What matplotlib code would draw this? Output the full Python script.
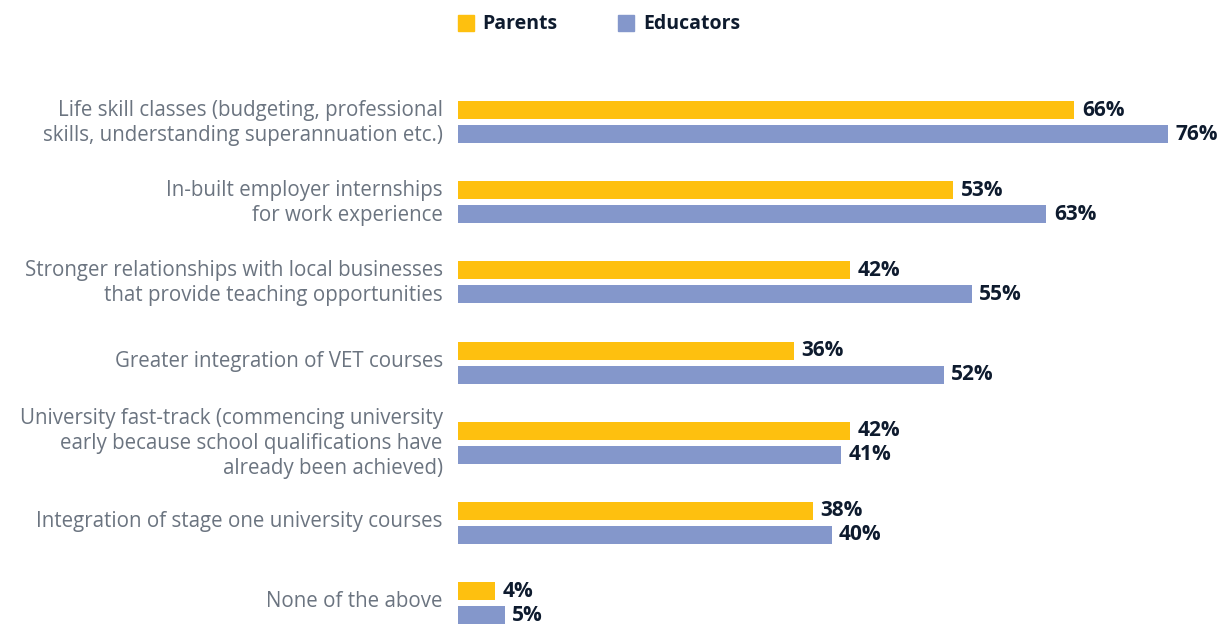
import matplotlib.pyplot as plt
import matplotlib.transforms as mtransforms
import numpy as np

categories = [
    "Life skill classes (budgeting, professional\nskills, understanding superannuation etc.)",
    "In-built employer internships\nfor work experience",
    "Stronger relationships with local businesses\nthat provide teaching opportunities",
    "Greater integration of VET courses",
    "University fast-track (commencing university\nearly because school qualifications have\nalready been achieved)",
    "Integration of stage one university courses",
    "None of the above",
]
parents = [66, 53, 42, 36, 42, 38, 4]
educators = [76, 63, 55, 52, 41, 40, 5]
series_names = ["Parents", "Educators"]

c_parents = "#FEC00F"
c_educators = "#8497CB"
c_value = "#0E1B2E"
c_label = "#6B7480"

plt.rcParams['font.family'] = ['Open Sans', 'DejaVu Sans']

fig = plt.figure(figsize=(12.27, 6.24), dpi=100)
ax = fig.add_axes([458 / 1227, 0, 1 - 458 / 1227, 1 - 90 / 624])

y = np.arange(len(categories))
off = 0.15
h = 0.224
ax.barh(y - off, parents, height=h, color=c_parents)
ax.barh(y + off, educators, height=h, color=c_educators)

for yi, v in zip(y - off, parents):
    ax.text(v + 0.8, yi, f"{v}%", va="center", ha="left", fontsize=15,
            fontweight="bold", color=c_value)
for yi, v in zip(y + off, educators):
    ax.text(v + 0.8, yi, f"{v}%", va="center", ha="left", fontsize=15,
            fontweight="bold", color=c_value)

ax.set_xlim(0, 769 / 9.34)
ax.set_ylim(6.26, -0.4)
ax.set_yticks(y)
ax.set_yticklabels(categories, fontsize=14.8, color=c_label, linespacing=1.25)
ax.tick_params(axis="y", length=0, pad=11)
ax.set_xticks([])
for s in ax.spines.values():
    s.set_visible(False)

# nudge the category labels up a little
shift = mtransforms.ScaledTranslation(0, 4 / 100, fig.dpi_scale_trans)
for lbl in ax.get_yticklabels():
    lbl.set_transform(lbl.get_transform() + shift)

# legend drawn by hand at the top
fig.patches.append(plt.Rectangle((458 / 1227, 1 - 31 / 624), 16 / 1227, 16 / 624,
                                 transform=fig.transFigure, color=c_parents))
fig.text(482 / 1227, 1 - 24 / 624, series_names[0], va="center", ha="left",
         fontsize=14, fontweight="bold", color=c_value)
fig.patches.append(plt.Rectangle((618 / 1227, 1 - 31 / 624), 16 / 1227, 16 / 624,
                                 transform=fig.transFigure, color=c_educators))
fig.text(643 / 1227, 1 - 24 / 624, series_names[1], va="center", ha="left",
         fontsize=14, fontweight="bold", color=c_value)

fig.savefig("out.png", dpi=100)
